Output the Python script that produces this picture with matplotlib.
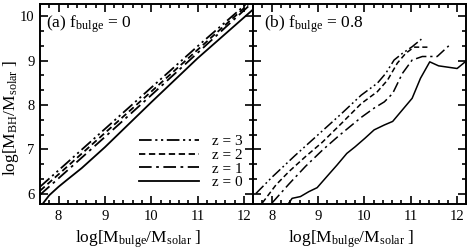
import matplotlib
matplotlib.use("Agg")
import matplotlib.pyplot as plt
from matplotlib.ticker import MultipleLocator

plt.rcParams['font.family'] = ['Liberation Serif', 'DejaVu Serif']
plt.rcParams['mathtext.fontset'] = 'custom'
plt.rcParams['mathtext.rm'] = 'Liberation Serif'
plt.rcParams['mathtext.it'] = 'Liberation Serif:italic'
plt.rcParams['font.size'] = 11

# panel (a): f_bulge = 0
a_z3_x = [7.6, 8.0, 9.0, 10.0, 11.0, 12.05]
a_z3_y = [6.16, 6.53, 7.46, 8.39, 9.32, 10.27]
a_z2_x = [7.6, 8.0, 9.0, 10.0, 11.0, 12.1]
a_z2_y = [6.07, 6.44, 7.37, 8.30, 9.24, 10.27]
a_z1_x = [7.6, 8.0, 9.0, 10.0, 11.0, 12.15]
a_z1_y = [5.98, 6.35, 7.28, 8.22, 9.17, 10.27]
a_z0_x = [7.66, 7.8, 8.0, 8.2, 8.5, 9.0, 10.0, 11.0, 12.2]
a_z0_y = [5.78, 5.97, 6.16, 6.33, 6.58, 7.05, 8.06, 9.05, 10.15]

# panel (b): f_bulge = 0.8
b_z3_x = [7.66, 8.0, 8.5, 9.0, 9.5, 9.93, 10.28, 10.46, 10.64, 10.82, 11.03, 11.23]
b_z3_y = [6.01, 6.37, 6.86, 7.33, 7.80, 8.22, 8.49, 8.71, 9.01, 9.16, 9.31, 9.48]
b_z2_x = [7.8, 8.09, 8.37, 8.73, 9.09, 9.5, 9.93, 10.28, 10.5, 10.71, 10.89, 11.07, 11.36]
b_z2_y = [5.80, 6.20, 6.50, 6.84, 7.16, 7.58, 8.03, 8.30, 8.56, 8.94, 9.16, 9.30, 9.30]
b_z1_x = [8.01, 8.37, 8.73, 9.09, 9.44, 9.93, 10.21, 10.43, 10.61, 10.82, 11.03, 11.25, 11.57, 11.82]
b_z1_y = [5.80, 6.22, 6.62, 6.98, 7.30, 7.72, 7.93, 8.07, 8.26, 8.71, 9.01, 9.09, 9.09, 9.33]
b_z0_x = [8.36, 8.44, 8.62, 8.80, 8.98, 9.19, 9.41, 9.62, 9.80, 10.01, 10.21, 10.43, 10.61,
          10.82, 11.03, 11.21, 11.41, 11.60, 12.0, 12.21]
b_z0_y = [5.78, 5.90, 5.94, 6.05, 6.14, 6.39, 6.65, 6.91, 7.06, 7.25, 7.44, 7.55, 7.63,
          7.89, 8.15, 8.60, 8.97, 8.88, 8.82, 9.0]

labels = ["z = 3", "z = 2", "z = 1", "z = 0"]
styles = [(0, (7, 2, 1.2, 2, 1.2, 2)), (0, (3.5, 2)), (0, (7, 2.5, 1.5, 2.5)), '-']

fig = plt.figure(figsize=(4.68, 2.52), dpi=100)
ax1 = fig.add_axes([0.0855, 0.19, 0.4555, 0.794])
ax2 = fig.add_axes([0.541, 0.19, 0.4555, 0.794])

a_data = [(a_z3_x, a_z3_y), (a_z2_x, a_z2_y), (a_z1_x, a_z1_y), (a_z0_x, a_z0_y)]
b_data = [(b_z3_x, b_z3_y), (b_z2_x, b_z2_y), (b_z1_x, b_z1_y), (b_z0_x, b_z0_y)]

for (x, y), ls, lab in zip(a_data, styles, labels):
    ax1.plot(x, y, color='black', lw=1.3, ls=ls, label=lab)
for (x, y), ls in zip(b_data, styles):
    ax2.plot(x, y, color='black', lw=1.1, ls=ls)

for ax in (ax1, ax2):
    ax.set_xlim(7.6, 12.2)
    ax.set_ylim(5.77, 10.27)
    ax.xaxis.set_major_locator(MultipleLocator(1))
    ax.xaxis.set_minor_locator(MultipleLocator(0.2))
    ax.yaxis.set_major_locator(MultipleLocator(1))
    ax.yaxis.set_minor_locator(MultipleLocator(1 / 3))
    ax.tick_params(which='both', direction='in', top=True, right=True, width=1.2)
    ax.tick_params(which='major', length=6, labelsize=10.5, pad=4)
    ax.tick_params(which='minor', length=3)
    for s in ax.spines.values():
        s.set_linewidth(1.4)
    ax.set_xlabel(r'log[M$_{\rm bulge}$/M$_{\rm solar}$ ]', fontsize=12.5)
    ax.xaxis.set_label_coords(0.46, -0.12)

ax2.tick_params(labelleft=False)
ax1.set_ylabel(r'log[M$_{\rm BH}$/M$_{\rm solar}$ ]', fontsize=12.5)
ax1.yaxis.set_label_coords(-0.09, 0.43)

ax1.text(0.03, 0.955, r'(a) f$_{\rm bulge}$ = 0', transform=ax1.transAxes,
         fontsize=12.5, va='top', ha='left')
ax2.text(0.05, 0.955, r'(b) f$_{\rm bulge}$ = 0.8', transform=ax2.transAxes,
         fontsize=12.5, va='top', ha='left')

ax1.legend(loc='lower right', frameon=False, fontsize=11, handlelength=3.9,
           labelspacing=0.0, handletextpad=0.85, borderaxespad=0.3,
           bbox_to_anchor=(1.0, 0.02))

fig.savefig('out.png', dpi=100)
